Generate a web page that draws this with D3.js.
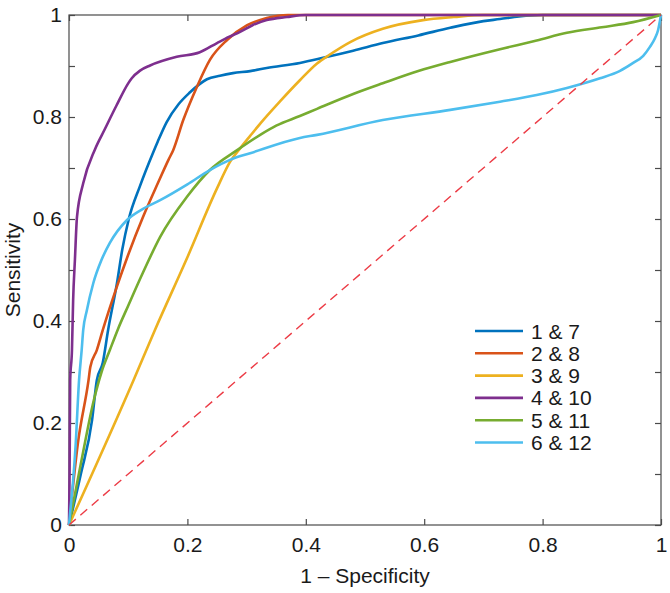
<!DOCTYPE html>
<html><head><meta charset="utf-8">
<script src="https://cdn.jsdelivr.net/npm/d3@7"></script>
<style>body{margin:0;background:#fff}svg{display:block}text{font-family:"Liberation Sans",Arial,sans-serif;fill:#1a1a1a}</style>
</head><body><svg id="c" width="670" height="593"></svg>
<script>
const seriesNames = ["1 & 7","2 & 8","3 & 9","4 & 10","5 & 11","6 & 12"];
const seriesColors = ["#0072BD","#D95319","#EDB120","#7E2F8E","#77AC30","#4DBEEE"];
const xTicks = [0,0.2,0.4,0.6,0.8,1];
const yTicks = [0,0.1,0.2,0.3,0.4,0.5,0.6,0.7,0.8,0.9,1];
const yTickLabels = [0,0.2,0.4,0.6,0.8,1];

const x1 = [0,0.020,0.039,0.047,0.057,0.066,0.081,0.090,0.101,0.120,0.142,0.150,0.165,0.185,0.204,0.220,0.233,0.255,0.277,0.306,0.334,0.390,0.429,0.480,0.530,0.590,0.644,0.700,0.728,0.760,0.800,0.900,1];
const y1 = [0,0.10,0.206,0.284,0.318,0.382,0.474,0.540,0.600,0.665,0.730,0.752,0.790,0.825,0.848,0.864,0.874,0.881,0.886,0.890,0.896,0.906,0.916,0.930,0.945,0.960,0.975,0.988,0.992,0.997,1,1,1];
const x2 = [0,0.015,0.033,0.036,0.047,0.057,0.079,0.100,0.125,0.150,0.168,0.176,0.193,0.216,0.238,0.267,0.301,0.334,0.370,0.450,1];
const y2 = [0,0.16,0.284,0.310,0.343,0.382,0.461,0.530,0.604,0.670,0.716,0.735,0.794,0.859,0.912,0.951,0.980,0.994,1,1,1];
const x3 = [0,0.109,0.145,0.200,0.250,0.272,0.290,0.306,0.323,0.356,0.390,0.419,0.440,0.475,0.530,0.598,0.650,0.700,0.750,1];
const y3 = [0,0.284,0.382,0.525,0.660,0.712,0.740,0.763,0.787,0.830,0.872,0.905,0.922,0.947,0.973,0.990,0.996,1,1,1];
const x4 = [0,0.001,0.002,0.005,0.007,0.010,0.0135,0.024,0.044,0.060,0.080,0.100,0.106,0.120,0.137,0.182,0.221,0.250,0.270,0.289,0.310,0.334,0.368,0.400,1];
const y4 = [0,0.10,0.284,0.343,0.441,0.520,0.604,0.670,0.737,0.775,0.822,0.866,0.876,0.891,0.901,0.918,0.927,0.945,0.957,0.967,0.980,0.990,0.996,1,1];
const x5 = [0,0.020,0.042,0.055,0.069,0.083,0.100,0.125,0.154,0.199,0.238,0.284,0.323,0.350,0.390,0.419,0.480,0.530,0.590,0.644,0.728,0.790,0.841,0.900,0.953,1];
const y5 = [0,0.12,0.245,0.300,0.343,0.385,0.430,0.495,0.565,0.643,0.696,0.735,0.765,0.783,0.802,0.816,0.845,0.866,0.890,0.908,0.933,0.950,0.965,0.976,0.986,1];
const x6 = [0,0.004,0.007,0.011,0.017,0.0214,0.024,0.030,0.041,0.055,0.069,0.098,0.125,0.154,0.200,0.238,0.272,0.306,0.390,0.419,0.530,0.644,0.728,0.790,0.841,0.897,0.930,0.953,0.970,0.981,0.990,0.995,1];
const y6 = [0,0.05,0.088,0.153,0.284,0.343,0.382,0.420,0.474,0.520,0.553,0.598,0.620,0.637,0.668,0.696,0.716,0.729,0.759,0.765,0.794,0.814,0.830,0.843,0.857,0.876,0.890,0.906,0.920,0.937,0.955,0.970,1];
const seriesX = [x1,x2,x3,x4,x5,x6];
const seriesY = [y1,y2,y3,y4,y5,y6];
const diagX = [0,1], diagY = [0,1];

const svg = d3.select("#c");
const L=69,R=661,T=15,B=525;
const FS = 21;
const x = d3.scaleLinear().domain([0,1]).range([L,R]);
const y = d3.scaleLinear().domain([0,1]).range([B,T]);
const axCol = "#4a4a4a";

svg.append("rect").attr("x",L).attr("y",T).attr("width",R-L).attr("height",B-T)
  .attr("fill","none").attr("stroke",axCol).attr("stroke-width",1.2);

const bx = svg.append("g").attr("transform",`translate(0,${B})`)
  .call(d3.axisBottom(x).tickValues(xTicks).tickSizeInner(-6).tickSizeOuter(0).tickPadding(12).tickFormat(d=>String(d)));
const tx = svg.append("g").attr("transform",`translate(0,${T})`)
  .call(d3.axisTop(x).tickValues(xTicks).tickSizeInner(-6).tickSizeOuter(0).tickFormat(""));
const ly = svg.append("g").attr("transform",`translate(${L},0)`)
  .call(d3.axisLeft(y).tickValues(yTicks).tickSizeInner(-6).tickSizeOuter(0).tickPadding(7)
  .tickFormat(d => yTickLabels.some(v=>Math.abs(v-d)<1e-9) ? String(+d.toFixed(1)) : ""));
const ry = svg.append("g").attr("transform",`translate(${R},0)`)
  .call(d3.axisRight(y).tickValues(yTicks).tickSizeInner(-6).tickSizeOuter(0).tickFormat(""));
[bx,tx,ly,ry].forEach(g=>{
  g.select(".domain").remove();
  g.selectAll(".tick line").attr("stroke",axCol).attr("stroke-width",1.2);
  g.selectAll("text").attr("font-size",FS).attr("font-family","Liberation Sans, Arial, sans-serif").attr("fill","#1a1a1a");
});

const line = d3.line().x(d=>x(d[0])).y(d=>y(d[1])).curve(d3.curveMonotoneX);
seriesX.forEach((xs,i)=>{
  const pts = xs.map((v,j)=>[v,seriesY[i][j]]);
  svg.append("path").attr("d",line(pts)).attr("fill","none")
    .attr("stroke",seriesColors[i]).attr("stroke-width",2.6).attr("stroke-linejoin","round");
});
svg.append("path").attr("d",d3.line().x(d=>x(d[0])).y(d=>y(d[1]))(diagX.map((v,j)=>[v,diagY[j]])))
  .attr("fill","none").attr("stroke","#ec3b45").attr("stroke-width",1.4).attr("stroke-dasharray","9,6");

const leg = svg.append("g");
seriesNames.forEach((n,i)=>{
  const yy = 331 + i*22.3;
  leg.append("line").attr("x1",475).attr("x2",523).attr("y1",yy).attr("y2",yy)
    .attr("stroke",seriesColors[i]).attr("stroke-width",2.6);
  leg.append("text").attr("x",531).attr("y",yy).attr("dy","0.36em").attr("font-size",FS).text(n);
});

svg.append("text").attr("x",(L+R)/2).attr("y",583).attr("text-anchor","middle").attr("font-size",FS).text("1 – Specificity");
svg.append("text").attr("transform",`translate(20,${(T+B)/2}) rotate(-90)`).attr("text-anchor","middle").attr("font-size",FS).text("Sensitivity");
</script></body></html>
